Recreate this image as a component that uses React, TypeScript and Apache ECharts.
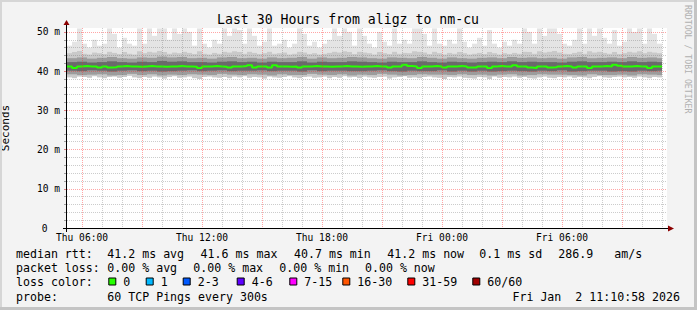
import React, { useEffect, useRef } from "react";
import * as echarts from "echarts";

// ---------- data ----------
const TITLE = "Last 30 Hours from aligz to nm-cu";
const START_MIN = 315; // Thu 05:15 (minutes since Thu 00:00)
const END_MIN = 2115; // Fri 11:15
const STEP = 15; // minutes per smoke column
const BAND_STEP = 30; // minutes per inner-band column
const DATA_END = 2100; // Fri 11:00

const X_LABEL_VALUES = [360, 720, 1080, 1440, 1800];
const Y_LABEL_VALUES = [0, 10, 20, 30, 40, 50];

const MEDIAN = [
  41.2, 40.8, 41.2, 41.3, 41.2, 41.2, 40.9, 41.2, 40.9, 41.0,
  41.2, 41.3, 41.2, 41.2, 41.1, 41.2, 41.3, 41.2, 41.2, 41.1,
  41.2, 41.2, 41.3, 41.2, 41.2, 41.1, 40.8, 41.2, 41.2, 41.3,
  41.2, 41.1, 40.9, 41.2, 41.2, 41.3, 41.5, 40.9, 41.2, 41.2,
  40.9, 41.5, 41.2, 41.2, 41.1, 41.2, 40.9, 41.2, 41.2, 41.3,
  41.2, 41.2, 41.1, 41.2, 41.2, 41.3, 41.2, 41.2, 41.1, 41.2,
  41.2, 41.3, 41.2, 41.2, 40.9, 41.2, 41.2, 41.6, 41.3, 41.2,
  40.8, 41.2, 41.2, 41.3, 41.2, 40.9, 41.2, 41.2, 41.3, 41.2,
  40.9, 40.9, 41.2, 41.2, 40.8, 41.2, 41.3, 41.2, 41.2, 41.5,
  41.2, 41.2, 40.9, 40.8, 41.2, 41.2, 40.9, 41.0, 41.2, 41.3,
  41.2, 40.9, 41.2, 41.2, 40.8, 41.2, 41.2, 41.3, 41.2, 41.6,
  41.4, 41.2, 41.2, 41.3, 41.2, 41.2, 40.8, 41.2, 41.2,
];

const MAX = [
  46.5, 47.5, 50.9, 47.0, 46.0, 48.0, 46.5, 47.0, 50.9, 49.5,
  46.0, 48.5, 47.0, 46.5, 50.9, 47.0, 50.9, 49.0, 50.9, 50.9,
  48.0, 50.9, 49.5, 50.9, 50.0, 46.5, 50.9, 47.0, 46.0, 48.0,
  47.0, 50.9, 49.0, 50.9, 50.5, 47.0, 50.9, 49.0, 46.5, 47.5,
  50.9, 46.5, 47.0, 48.0, 46.0, 47.0, 50.9, 49.5, 46.5, 47.5,
  46.0, 47.0, 48.0, 50.9, 49.0, 50.9, 50.0, 46.5, 50.9, 49.0,
  47.0, 46.0, 50.0, 47.5, 46.5, 50.9, 47.0, 48.0, 47.0, 50.9,
  50.9, 49.5, 46.5, 50.9, 47.0, 46.5, 48.0, 47.0, 50.9, 47.5,
  46.0, 47.0, 48.5, 46.5, 50.5, 47.0, 46.0, 47.5, 46.5, 48.0,
  47.0, 50.9, 50.0, 47.0, 50.9, 49.0, 50.9, 50.9, 49.5, 47.0,
  46.5, 48.0, 50.9, 47.0, 50.9, 49.0, 50.9, 48.5, 47.0, 50.5,
  46.5, 47.5, 50.9, 50.0, 50.9, 47.0, 50.9, 49.5, 47.0,
];

const HIGH = [
  44.6, 44.9, 45.2, 44.5, 44.3, 44.8, 44.6, 44.4, 45.0, 44.7,
  44.4, 44.9, 44.5, 44.3, 45.1, 44.6, 45.0, 44.8, 45.2, 44.9,
  44.5, 44.8, 44.6, 45.0, 44.7, 44.4, 45.1, 44.5, 44.3, 44.7,
  44.5, 45.0, 44.8, 45.1, 44.9, 44.5, 45.0, 44.7, 44.4, 44.6,
  45.0, 44.5, 44.6, 44.8, 44.3, 44.5, 45.0, 44.8, 44.4, 44.6,
  44.3, 44.5, 44.7, 45.0, 44.8, 45.1, 44.9, 44.4, 45.0, 44.8,
  44.6, 44.3, 44.9, 44.6, 44.4, 45.0, 44.5, 44.7, 44.6, 45.1,
  45.0, 44.8, 44.4, 45.0, 44.6, 44.3, 44.7, 44.5, 44.9, 44.6,
  44.3, 44.5, 44.7, 44.4, 44.9, 44.6, 44.3, 44.6, 44.4, 44.7,
  44.5, 45.0, 44.9, 44.5, 45.1, 44.8, 45.0, 45.2, 44.8, 44.5,
  44.4, 44.7, 45.0, 44.5, 45.1, 44.8, 45.0, 44.7, 44.5, 44.9,
  44.4, 44.6, 45.0, 44.8, 45.1, 44.6, 45.0, 44.8, 44.6,
];

const LOW = [
  38.4, 38.2, 38.6, 38.5, 38.3, 38.7, 38.4, 38.2, 38.5, 38.6,
  38.3, 38.5, 38.8, 38.4, 38.2, 38.5, 38.3, 38.6, 38.4, 38.1,
  38.5, 38.7, 38.3, 38.4, 38.6, 38.2, 38.0, 38.5, 38.6, 38.4,
  38.3, 38.5, 38.2, 38.6, 38.4, 38.7, 38.3, 38.5, 38.4, 38.1,
  38.6, 38.4, 38.3, 38.5, 38.7, 38.4, 38.2, 38.5, 38.6, 38.3,
  38.4, 38.6, 38.2, 38.5, 38.3, 38.7, 38.4, 38.5, 38.2, 38.6,
  38.4, 38.3, 38.5, 38.6, 38.1, 38.4, 38.5, 38.7, 38.3, 38.4,
  38.2, 38.5, 38.6, 38.4, 38.3, 38.0, 38.5, 38.4, 38.6, 38.3,
  38.2, 38.1, 38.5, 38.4, 38.0, 38.6, 38.3, 38.5, 38.4, 38.6,
  38.3, 38.5, 38.2, 38.1, 38.4, 38.6, 38.3, 38.2, 38.5, 38.4,
  38.6, 38.3, 38.5, 38.4, 38.2, 38.5, 38.7, 38.4, 38.3, 38.5,
  38.6, 38.4, 38.5, 38.3, 38.6, 38.4, 38.2, 38.5, 38.4,
];

const P90 = [
  43.3, 43.5, 43.2, 43.4, 43.6, 43.3, 43.2, 43.5, 43.4, 43.7,
  43.5, 43.6, 43.3, 43.4, 43.2, 43.5, 43.6, 43.3, 43.4, 43.2,
  43.5, 43.3, 43.4, 43.6, 43.2, 43.5, 43.3, 43.4, 43.6, 43.5,
  43.3, 43.2, 43.5, 43.4, 43.3, 43.6, 43.4, 43.2, 43.5, 43.3,
  43.2, 43.4, 43.5, 43.3, 43.6, 43.4, 43.5, 43.3, 43.4, 43.2,
  43.5, 43.6, 43.3, 43.4, 43.5, 43.3, 43.6, 43.4, 43.5, 43.3,
];

const P75 = [
  42.3, 42.4, 42.2, 42.3, 42.5, 42.3, 42.2, 42.4, 42.3, 42.6,
  42.4, 42.5, 42.3, 42.3, 42.2, 42.4, 42.5, 42.3, 42.4, 42.2,
  42.4, 42.3, 42.3, 42.5, 42.2, 42.4, 42.3, 42.3, 42.5, 42.4,
  42.3, 42.2, 42.4, 42.3, 42.3, 42.5, 42.3, 42.2, 42.4, 42.3,
  42.2, 42.3, 42.4, 42.3, 42.5, 42.3, 42.4, 42.3, 42.3, 42.2,
  42.4, 42.5, 42.3, 42.3, 42.4, 42.3, 42.5, 42.3, 42.4, 42.3,
];

const P25 = [
  40.1, 40.0, 40.2, 40.1, 39.9, 40.1, 40.2, 40.0, 40.1, 39.9,
  40.0, 40.1, 40.2, 40.0, 40.1, 40.2, 40.0, 40.1, 40.1, 40.2,
  40.0, 40.1, 40.1, 39.9, 40.2, 40.0, 40.1, 40.1, 40.0, 40.0,
  40.1, 40.2, 40.0, 39.9, 40.1, 40.0, 40.0, 40.2, 39.9, 40.1,
  39.9, 40.1, 39.9, 40.0, 40.1, 40.0, 39.9, 40.1, 40.0, 40.2,
  39.9, 40.0, 40.1, 40.1, 39.9, 40.0, 39.9, 40.1, 40.0, 40.1,
];

const P10 = [
  39.2, 39.0, 39.1, 39.2, 38.9, 39.0, 39.3, 39.0, 39.2, 38.9,
  39.1, 39.0, 39.2, 39.1, 39.0, 39.3, 39.1, 39.0, 39.2, 39.1,
  38.9, 39.2, 39.0, 39.0, 39.3, 39.1, 39.0, 39.2, 38.9, 39.1,
  39.0, 39.3, 39.1, 38.9, 39.0, 39.2, 39.1, 39.1, 39.0, 39.2,
  39.0, 39.1, 38.9, 39.1, 39.2, 38.9, 39.0, 39.2, 39.1, 39.1,
  39.0, 38.9, 39.2, 39.0, 39.0, 39.1, 38.9, 39.2, 39.1, 39.0,
];

const RTT_LABEL = "median rtt:";
const RTT_ITEMS = ["41.2 ms avg", "41.6 ms max", "40.7 ms min", "41.2 ms now", "0.1 ms sd", "286.9", "am/s"];
const LOSS_LABEL = "packet loss:";
const LOSS_ITEMS = ["0.00 % avg", "0.00 % max", "0.00 % min", "0.00 % now"];
const LOSS_COLOR_LABEL = "loss color:";
const LOSS_LEVELS = ["0", "1", "2-3", "4-6", "7-15", "16-30", "31-59", "60/60"];
const LOSS_COLORS = ["#26ff00", "#00b8ff", "#0059ff", "#5e00ff", "#ff00ff", "#ff5500", "#ff0000", "#a10000"];
const PROBE_LABEL = "probe:";
const PROBE_TEXT = "60 TCP Pings every 300s";
const DATE_TEXT = "Fri Jan  2 11:10:58 2026";
const SIDE_TEXT = "RRDTOOL / TOBI OETIKER";

// ---------- layout ----------
const MONO = '"DejaVu Sans Mono", monospace';
const ROW_Y = [254, 268.3, 282, 296.5];
const RTT_X = [107.3, 200.6, 294, 387.3, 479.3, 558.3, 614.3];
const LOSS_X = [107.3, 193.3, 279.3, 365];
const BOX_X = [108.3, 145.7, 182.7, 236.7, 289.3, 342.3, 407.3, 472.3];
const GRID_RED = "rgba(255,40,40,0.42)";
const GRID_GRAY = "rgba(110,110,110,0.35)";

const fmtX = (v: number) => {
  const day = v < 1440 ? "Thu" : "Fri";
  const m = v % 1440;
  const hh = String(Math.floor(m / 60)).padStart(2, "0");
  const mm = String(m % 60).padStart(2, "0");
  return `${day} ${hh}:${mm}`;
};

const bandSeries = (
  name: string,
  step: number,
  lows: number[],
  highs: number[],
  color: string,
  z: number
) => ({
  type: "custom",
  name,
  z,
  silent: true,
  data: lows.map((lo, i) => {
    const s = START_MIN + i * step;
    return [s, Math.min(s + step, DATA_END), lo, highs[i]];
  }),
  encode: { x: [0, 1], y: [2, 3] },
  renderItem: (_params: any, api: any) => {
    const a = api.coord([api.value(0), api.value(3)]);
    const b = api.coord([api.value(1), api.value(2)]);
    return {
      type: "rect",
      shape: { x: a[0], y: a[1], width: b[0] - a[0], height: b[1] - a[1] },
      style: { fill: color },
    };
  },
});

export default function App() {
  const ref = useRef<HTMLDivElement>(null);

  useEffect(() => {
    document.body.style.margin = "0";
    if (!ref.current) return;
    const chart = echarts.init(ref.current, undefined, { renderer: "svg" });

    const minorHours: number[] = [];
    const majorHours: number[] = [];
    for (let h = 360; h <= DATA_END; h += 60) (h % 180 === 0 ? majorHours : minorHours).push(h);
    const minorY: number[] = [];
    const majorY: number[] = [];
    for (let v = 0; v <= 50; v += 2) (v % 10 === 0 ? majorY : minorY).push(v);

    const medianData = MEDIAN.map((v, i) => [START_MIN + i * STEP, v]);
    medianData.push([DATA_END, MEDIAN[MEDIAN.length - 1]]);

    const graphics: any[] = [];
    const txt = (x: number, y: number, text: string, extra: any = {}) =>
      graphics.push({
        type: "text",
        x,
        y,
        z: 100,
        silent: true,
        style: {
          text,
          fontFamily: MONO,
          fontSize: 11.6,
          fill: "#000",
          textVerticalAlign: "middle",
          ...extra,
        },
      });

    // frame
    graphics.push(
      { type: "rect", z: 100, shape: { x: 0, y: 0, width: 697, height: 2 }, style: { fill: "#d6d6d6" } },
      { type: "rect", z: 100, shape: { x: 0, y: 0, width: 2, height: 310 }, style: { fill: "#d6d6d6" } },
      { type: "rect", z: 100, shape: { x: 694, y: 0, width: 3, height: 310 }, style: { fill: "#c4c4c4" } },
      { type: "rect", z: 100, shape: { x: 0, y: 307, width: 697, height: 3 }, style: { fill: "#c4c4c4" } }
    );
    // title
    txt(348, 19, TITLE, { fontSize: 13.2, textAlign: "center" });
    // side credit
    graphics.push({
      type: "text",
      x: 688,
      y: 5,
      rotation: -Math.PI / 2,
      z: 100,
      style: { text: SIDE_TEXT, fontFamily: MONO, fontSize: 8.2, fill: "#b0b0b0", textAlign: "left", textVerticalAlign: "middle" },
    });
    // axes lines + arrows
    graphics.push(
      { type: "line", z: 100, shape: { x1: 63, y1: 228.5, x2: 668, y2: 228.5 }, style: { stroke: "#000", lineWidth: 1 } },
      { type: "line", z: 100, shape: { x1: 66.5, y1: 232, x2: 66.5, y2: 24 }, style: { stroke: "#000", lineWidth: 1 } },
      { type: "polygon", z: 100, shape: { points: [[668, 225.5], [668, 231.5], [674, 228.5]] }, style: { fill: "#8b0000" } },
      { type: "polygon", z: 100, shape: { points: [[63.5, 25], [69.5, 25], [66.5, 20]] }, style: { fill: "#8b0000" } }
    );
    // legend rows
    txt(16, ROW_Y[0], RTT_LABEL);
    RTT_ITEMS.forEach((t, i) => txt(RTT_X[i], ROW_Y[0], t));
    txt(16, ROW_Y[1], LOSS_LABEL);
    LOSS_ITEMS.forEach((t, i) => txt(LOSS_X[i], ROW_Y[1], t));
    txt(16, ROW_Y[2], LOSS_COLOR_LABEL);
    LOSS_LEVELS.forEach((t, i) => {
      graphics.push({
        type: "rect",
        z: 100,
        shape: { x: BOX_X[i] + 0.5, y: ROW_Y[2] - 4, width: 7, height: 7 },
        style: { fill: LOSS_COLORS[i], stroke: "#000", lineWidth: 1 },
      });
      txt(BOX_X[i] + 15, ROW_Y[2], t);
    });
    txt(16, ROW_Y[3], PROBE_LABEL);
    txt(107.3, ROW_Y[3], PROBE_TEXT);
    txt(680, ROW_Y[3], DATE_TEXT, { textAlign: "right" });

    const gridLine = (color: string) => ({
      show: true,
      lineStyle: { color, type: [1, 1], width: 1 },
    });

    chart.setOption({
      animation: false,
      backgroundColor: "#f3f3f3",
      grid: {
        left: 67,
        top: 28,
        right: 30,
        bottom: 82,
        show: true,
        backgroundColor: "#ffffff",
        borderWidth: 0,
        containLabel: false,
        outerBoundsMode: "none",
      },
      xAxis: [
        {
          type: "value",
          min: START_MIN,
          max: END_MIN,
          z: 10,
          axisLine: { show: false },
          axisTick: { show: false, customValues: minorHours },
          axisLabel: {
            customValues: X_LABEL_VALUES,
            formatter: fmtX,
            fontFamily: MONO,
            fontSize: 9.6,
            color: "#000",
            margin: 4,
          },
          splitLine: gridLine(GRID_GRAY),
        },
        {
          type: "value",
          position: "top",
          min: START_MIN,
          max: END_MIN,
          z: 11,
          axisLine: { show: false },
          axisTick: { show: false, customValues: majorHours },
          axisLabel: { show: false },
          splitLine: gridLine(GRID_RED),
        },
      ],
      yAxis: [
        {
          type: "value",
          min: 0,
          max: 51,
          z: 10,
          name: "Seconds",
          nameLocation: "middle",
          nameGap: 56,
          nameRotate: 90,
          nameTextStyle: { fontFamily: MONO, fontSize: 11, color: "#000" },
          axisLine: { show: false },
          axisTick: { show: true, customValues: minorY, length: 3, lineStyle: { color: "#a0a0a0" } },
          axisLabel: {
            customValues: Y_LABEL_VALUES,
            formatter: (v: number) => (v === 0 ? "{z|0}" : `${v} m`),
            rich: { z: { padding: [0, 12.5, 0, 0], fontFamily: MONO, fontSize: 9.6, color: "#000" } },
            fontFamily: MONO,
            fontSize: 9.6,
            color: "#000",
            margin: 7,
          },
          splitLine: gridLine(GRID_GRAY),
        },
        {
          type: "value",
          position: "left",
          min: 0,
          max: 51,
          z: 11,
          axisLine: { show: false },
          axisTick: { show: true, customValues: majorY, length: 3, lineStyle: { color: "#e08080" } },
          axisLabel: { show: false },
          splitLine: gridLine(GRID_RED),
        },
      ],
      graphic: { elements: graphics },
      series: [
        bandSeries("spikes", STEP, HIGH, MAX, "#e4e4e4", 2),
        bandSeries("outer", STEP, LOW, HIGH, "#c9c9c9", 3),
        bandSeries("mid", BAND_STEP, P10, P90, "#9c9c9c", 4),
        bandSeries("core", BAND_STEP, P25, P75, "#6a6a6a", 5),
        {
          type: "line",
          name: "median",
          z: 6,
          step: "end",
          symbol: "none",
          silent: true,
          data: medianData,
          lineStyle: { color: "#26ff00", width: 2 },
        },
      ],
    });

    return () => chart.dispose();
  }, []);

  return <div ref={ref} style={{ width: 697, height: 310 }} />;
}
